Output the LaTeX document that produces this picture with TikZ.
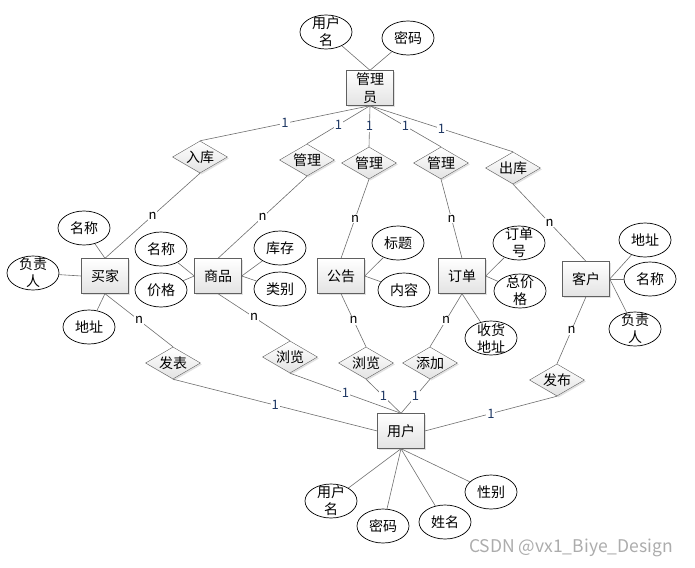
\documentclass[tikz,border=0pt]{standalone}
\usepackage{fontspec}
\setmainfont{Noto Sans CJK SC}
\usetikzlibrary{shapes.geometric,shadows}
\definecolor{linegray}{HTML}{6E6E6E}
\definecolor{cardblue}{HTML}{1F3864}

\begin{document}
\begin{tikzpicture}[
  x=1pt,y=-1pt,font=\fontsize{14}{18}\selectfont,
  ent/.style={draw=gray!75!black,top color=white,bottom color=gray!22,
    drop shadow={shadow xshift=1.5pt,shadow yshift=-1.5pt,fill=gray!45},
    minimum width=47pt,minimum height=35pt,inner sep=1pt,align=center},
  rel/.style={diamond,aspect=1.7,draw=gray!75!black,top color=white,bottom color=gray!22,
    drop shadow={shadow xshift=1.5pt,shadow yshift=-1.5pt,fill=gray!45},
    minimum width=55pt,minimum height=32pt,inner sep=0pt},
  attr/.style={ellipse,draw,line width=0.7pt,minimum width=52pt,minimum height=34pt,inner sep=0pt},
  two/.style={attr,label={[align=center,font=\fontsize{14}{17}\selectfont]center:#1}},
  ln/.style={draw=linegray,line width=0.6pt},
  one/.style={fill=white,inner sep=1pt,text=cardblue,font=\fontsize{13}{14}\selectfont},
  many/.style={fill=white,inner sep=1pt,font=\fontsize{13}{14}\selectfont}
]
\useasboundingbox (0,0) rectangle (695,567);
% administrator
\node[ent] (admin) at (370,88) {管理\\员};
\node[two={用户\\名}] (aname) at (326,32) {};
\node[attr] (apwd) at (408,38) {密码};
% relations to admin
\node[rel] (ruku) at (200,157) {入库};
\node[rel] (gl1) at (307,160) {管理};
\node[rel] (gl2) at (369,163) {管理};
\node[rel] (gl3) at (441,163) {管理};
\node[rel] (chuku) at (513,168) {出库};
% entities
\node[ent] (buyer) at (105,276) {买家};
\node[ent] (goods) at (218,276) {商品};
\node[ent] (notice) at (341,276) {公告};
\node[ent] (order) at (462,276) {订单};
\node[ent] (cust) at (586,279) {客户};
% attributes
\node[attr] (bname) at (84,228) {名称};
\node[two={负责\\人}] (bmgr) at (33,273) {};
\node[attr] (baddr) at (89,327) {地址};
\node[attr] (gname) at (161,249) {名称};
\node[attr] (gprice) at (161,290) {价格};
\node[attr] (gstock) at (280,248) {库存};
\node[attr] (gtype) at (280,289) {类别};
\node[attr] (ntitle) at (398,243) {标题};
\node[attr] (ntext) at (404,290) {内容};
\node[two={订单\\号}] (ono) at (519,243) {};
\node[two={总价\\格}] (ototal) at (520,291) {};
\node[two={收货\\地址}] (oaddr) at (491,338) {};
\node[attr] (caddr) at (645,240) {地址};
\node[attr] (cname) at (650,279) {名称};
\node[two={负责\\人}] (cmgr) at (635,329) {};
% relations to user
\node[rel] (fabiao) at (173,363) {发表};
\node[rel] (liulan1) at (290,357) {浏览};
\node[rel] (liulan2) at (366,363) {浏览};
\node[rel] (tianjia) at (430,363) {添加};
\node[rel] (fabu) at (557,380) {发布};
% user
\node[ent] (user) at (401,431) {用户};
\node[two={用户\\名}] (uname) at (331,501) {};
\node[attr] (upwd) at (383,526) {密码};
\node[attr] (urname) at (445,522) {姓名};
\node[attr] (usex) at (491,492) {性别};
\node[text=gray!65,font=\fontsize{17.5}{19}\selectfont] (mark) at (571,548) {CSDN @vx1\_Biye\_Design};

\draw[ln] (aname) -- (admin.north);
\draw[ln] (apwd) -- (admin.north);
\foreach \r in {ruku,gl1,gl2,gl3,chuku}
  \draw[ln] (admin.south) -- node[one]{1} (\r.north);
\foreach \r/\e in {ruku/buyer,gl1/goods,gl2/notice,gl3/order,chuku/cust}
  \draw[ln] (\r.south) -- node[many]{n} (\e.north);
\foreach \e/\r in {buyer/fabiao,goods/liulan1,notice/liulan2,order/tianjia,cust/fabu}
  \draw[ln] (\e.south) -- node[many]{n} (\r.north);
\draw[ln] (fabiao.south) -- node[one]{1} (user.west);
\foreach \r in {liulan1,liulan2,tianjia}
  \draw[ln] (\r.south) -- node[one]{1} (user.north);
\draw[ln] (fabu.south) -- node[one]{1} (user.east);
% attribute links
\draw[ln] (buyer.north) -- (bname);
\draw[ln] (buyer.west) -- (bmgr);
\draw[ln] (buyer.south) -- (baddr);
\foreach \a in {gname,gprice} \draw[ln] (goods.west) -- (\a);
\foreach \a in {gstock,gtype} \draw[ln] (goods.east) -- (\a);
\foreach \a in {ntitle,ntext} \draw[ln] (notice.east) -- (\a);
\foreach \a in {ono,ototal} \draw[ln] (order.east) -- (\a);
\draw[ln] (order.south) -- (oaddr);
\foreach \a in {caddr,cname,cmgr} \draw[ln] (cust.east) -- (\a);
\foreach \a in {uname,upwd,urname,usex} \draw[ln] (user.south) -- (\a);
\end{tikzpicture}
\end{document}
